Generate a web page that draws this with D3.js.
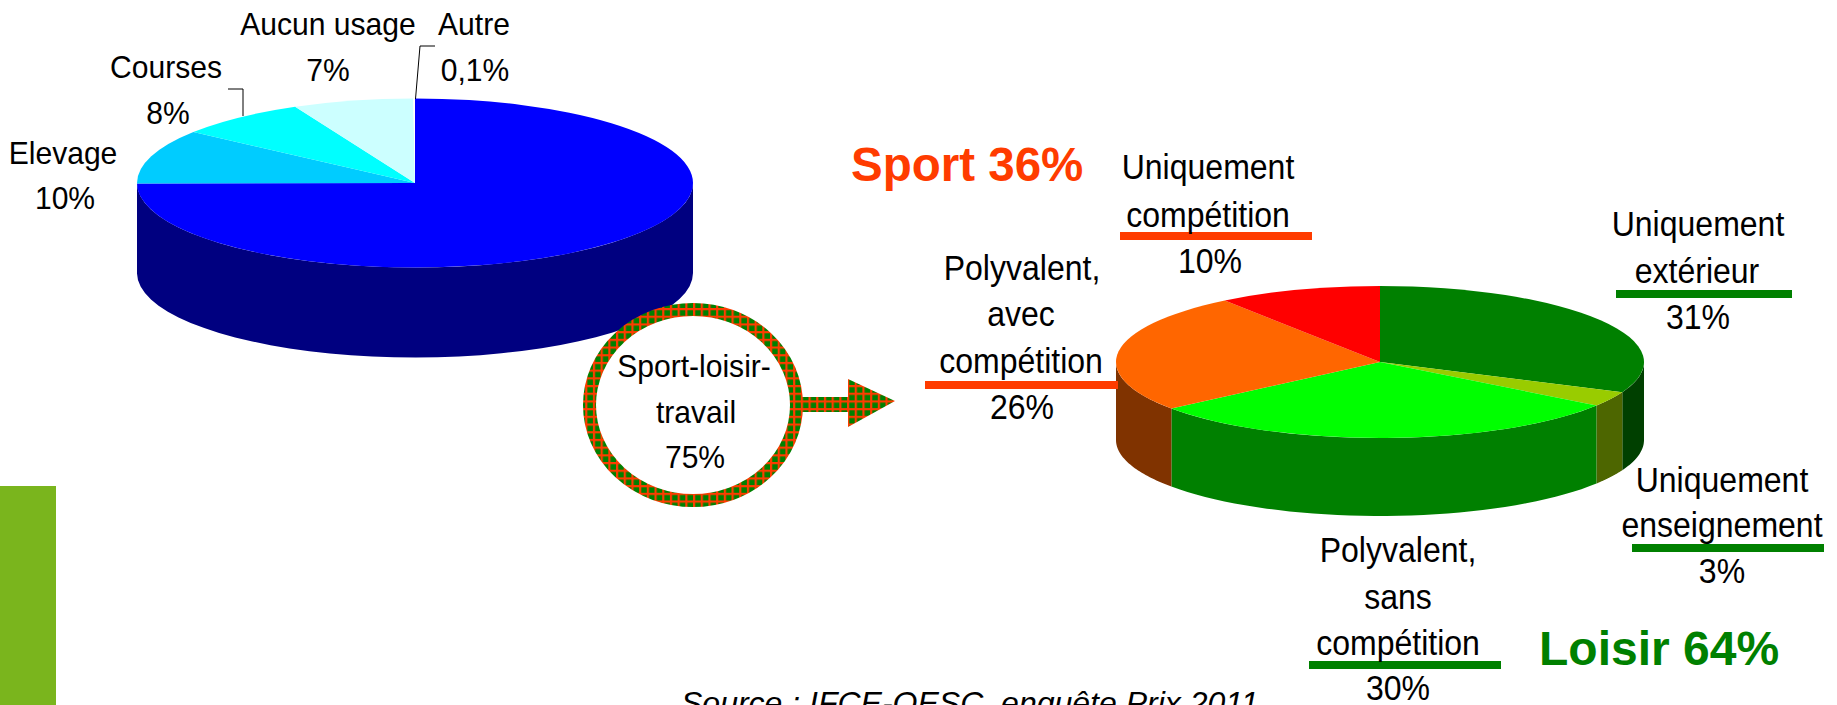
<!DOCTYPE html>
<html>
<head>
<meta charset="utf-8">
<script src="https://cdn.jsdelivr.net/npm/d3@7"></script>
<style>
  html, body { margin: 0; padding: 0; background: #fff; overflow: hidden; }
  text { font-family: "Liberation Sans", Arial, sans-serif; fill: #000; }
</style>
</head>
<body>
<div id="chart"></div>
<script>
const usageNames = ["Sport-loisir-travail", "Elevage", "Courses", "Aucun usage", "Autre"];
const usageValues = [75, 10.4, 7.6, 7, 0.1];
const usageTop = ["#0000ff", "#00ccff", "#00ffff", "#ccffff", "#ffffff"];
const usageSide = ["#000080", "#006680", "#008080", "#668080", "#808080"];

const sportNames = ["Uniquement extérieur", "Uniquement enseignement", "Polyvalent, sans compétition", "Polyvalent, avec compétition", "Uniquement compétition"];
const sportValues = [31.5, 3.2, 29.8, 25.5, 10];
const sportTop = ["#008000", "#99cc00", "#00ff00", "#ff6600", "#ff0000"];
const sportSide = ["#004000", "#4d6600", "#008000", "#803300", "#800000"];

const width = 1837;
const height = 705;

const svg = d3
  .select("#chart")
  .append("svg")
  .attr("width", width)
  .attr("height", height);

// hatch used on the ring and the arrow
const hatch = svg
  .append("defs")
  .append("pattern")
  .attr("id", "hatch")
  .attr("patternUnits", "userSpaceOnUse")
  .attr("width", 7.7)
  .attr("height", 7.7);
hatch.append("rect").attr("width", 7.7).attr("height", 7.7).attr("fill", "#008000");
hatch.append("rect").attr("width", 7.7).attr("height", 2.2).attr("fill", "#ff3c00");
hatch.append("rect").attr("width", 2.2).attr("height", 7.7).attr("fill", "#ff3c00");

const pie = d3
  .pie()
  .sort(null)
  .value((d) => d.value);

// tilted pie: flat d3.arc squashed by a transform, with the wall drawn under it
let drawPie = (names, values, top, side, cx, cy, rx, ry, depth) => {
  const data = names.map((n, i) => ({ name: n, value: values[i], top: top[i], side: side[i] }));
  const slices = pie(data);
  const g = svg.append("g").attr("class", "pie");

  const px = (a) => cx + rx * Math.sin(a);
  const py = (a) => cy - ry * Math.cos(a);

  slices.forEach((d) => {
    // only the front half of the wall can be seen
    const a0 = Math.max(d.startAngle, Math.PI / 2);
    const a1 = Math.min(d.endAngle, (3 * Math.PI) / 2);
    if (a1 <= a0) return;
    const p = d3.path();
    p.moveTo(px(a0), py(a0));
    const steps = d3.range(0, 41).map((s) => a0 + ((a1 - a0) * s) / 40);
    steps.forEach((a) => p.lineTo(px(a), py(a)));
    steps.reverse().forEach((a) => p.lineTo(px(a), py(a) + depth));
    p.closePath();
    g.append("path").attr("d", p.toString()).attr("fill", d.data.side);
  });

  const arc = d3.arc().innerRadius(0).outerRadius(rx);
  g.selectAll("path.slice")
    .data(slices)
    .enter()
    .append("path")
    .attr("class", "slice")
    .attr("d", arc)
    .attr("fill", (d) => d.data.top)
    .attr("transform", `translate(${cx},${cy}) scale(1,${ry / rx})`);
};

drawPie(usageNames, usageValues, usageTop, usageSide, 415, 183, 278, 84.5, 90);
drawPie(sportNames, sportValues, sportTop, sportSide, 1380, 362, 264, 76, 78);

// side block on the left
svg.append("rect").attr("x", 0).attr("y", 486).attr("width", 56).attr("height", 219).attr("fill", "#7ab51d");

// ring and arrow
svg
  .append("path")
  .attr("d", "M800,397H848V379L895,401L848,427V412H800Z")
  .attr("fill", "url(#hatch)");
svg
  .append("ellipse")
  .attr("cx", 693)
  .attr("cy", 405)
  .attr("rx", 103.5)
  .attr("ry", 95.5)
  .attr("fill", "#fff")
  .attr("stroke", "url(#hatch)")
  .attr("stroke-width", 13);

// leader lines
const leaders = ["M228,89H243V116", "M435,46H420L415.5,99"];
svg
  .selectAll("path.leader")
  .data(leaders)
  .enter()
  .append("path")
  .attr("class", "leader")
  .attr("d", (d) => d)
  .attr("fill", "none")
  .attr("stroke", "#000")
  .attr("stroke-width", 1);

// coloured rules under the labels
const rules = [
  { x0: 1120, x1: 1312, y: 232, c: "#ff3c00" },
  { x0: 925, x1: 1118, y: 381, c: "#ff3c00" },
  { x0: 1616, x1: 1792, y: 290, c: "#008000" },
  { x0: 1632, x1: 1824, y: 544, c: "#008000" },
  { x0: 1309, x1: 1501, y: 661, c: "#008000" },
];
svg
  .selectAll("rect.rule")
  .data(rules)
  .enter()
  .append("rect")
  .attr("class", "rule")
  .attr("x", (d) => d.x0)
  .attr("y", (d) => d.y)
  .attr("width", (d) => d.x1 - d.x0)
  .attr("height", 8)
  .attr("fill", (d) => d.c);

// text: [string, centre x, baseline y]
const usageLabels = [
  ["Aucun usage", 328, 35],
  ["7%", 328, 81],
  ["Autre", 474, 35],
  ["0,1%", 475, 81],
  ["Courses", 166, 78],
  ["8%", 168, 124],
  ["Elevage", 63, 164],
  ["10%", 65, 209],
  ["Sport-loisir-", 694, 377],
  ["travail", 696, 423],
  ["75%", 695, 468],
];
const sportLabels = [
  ["Uniquement", 1208, 179],
  ["compétition", 1208, 227],
  ["10%", 1210, 273],
  ["Polyvalent,", 1022, 280],
  ["avec", 1021, 326],
  ["compétition", 1021, 373],
  ["26%", 1022, 419],
  ["Uniquement", 1698, 236],
  ["extérieur", 1697, 283],
  ["31%", 1698, 329],
  ["Uniquement", 1722, 492],
  ["enseignement", 1722, 537],
  ["3%", 1722, 583],
  ["Polyvalent,", 1398, 562],
  ["sans", 1398, 609],
  ["compétition", 1398, 655],
  ["30%", 1398, 700],
];

// the original text is a bit taller and narrower than plain Arial
let drawLabels = (rows, size, squeeze) => {
  rows.forEach((d) => {
    svg
      .append("text")
      .attr("transform", `translate(${d[1]},${d[2]}) scale(${squeeze},1)`)
      .attr("text-anchor", "middle")
      .style("font-size", size + "px")
      .text(d[0]);
  });
};
drawLabels(usageLabels, 32, 0.94);
drawLabels(sportLabels, 35, 0.915);

svg
  .append("text")
  .attr("x", 851)
  .attr("y", 181)
  .style("font-size", "47.5px")
  .style("font-weight", "700")
  .style("fill", "#ff3c00")
  .text("Sport 36%");

svg
  .append("text")
  .attr("x", 1539)
  .attr("y", 665)
  .style("font-size", "48px")
  .style("font-weight", "700")
  .style("fill", "#008000")
  .text("Loisir 64%");

svg
  .append("text")
  .attr("x", 681)
  .attr("y", 714)
  .style("font-size", "32px")
  .style("font-style", "italic")
  .text("Source : IFCE-OESC, enquête Prix 2011");
</script>
</body>
</html>
